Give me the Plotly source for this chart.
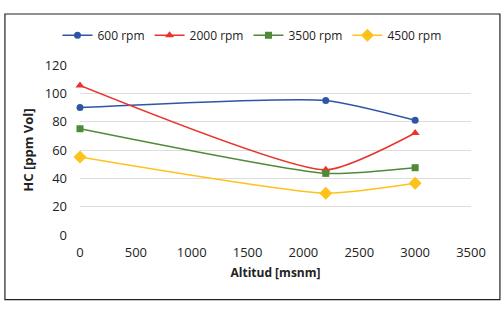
import plotly.graph_objects as go

altitud = [0, 2200, 3000]
rpm600 = [90, 95, 81]
rpm2000 = [105.5, 46, 72]
rpm3500 = [75, 43.5, 47.5]
rpm4500 = [55, 29.5, 36.5]

series = [
    ("600 rpm", rpm600, "#2E56A6", "circle", 7),
    ("2000 rpm", rpm2000, "#E8342A", "triangle-up", 8),
    ("3500 rpm", rpm3500, "#4E8A37", "square", 7),
    ("4500 rpm", rpm4500, "#FFC21A", "diamond", 10),
]

fig = go.Figure()
for name, ys, color, sym, sz in series:
    fig.add_trace(go.Scatter(
        x=altitud, y=ys, name=name, mode="lines+markers", cliponaxis=False,
        line=dict(color=color, width=1.5, shape="spline", smoothing=0.55),
        marker=dict(color=color, symbol=sym, size=sz),
    ))

fig.update_layout(
    width=504, height=311,
    margin=dict(l=80, r=33, t=65, b=76),
    paper_bgcolor="white", plot_bgcolor="white",
    font=dict(family="Open Sans", size=13, color="#222"),
    showlegend=True,
    legend=dict(orientation="h", xref="container", yref="container",
                x=0.5, xanchor="center", y=0.887, yanchor="middle",
                font=dict(size=12), itemwidth=30, traceorder="normal"),
    xaxis=dict(range=[0, 3500], tickvals=[0, 500, 1000, 1500, 2000, 2500, 3000, 3500],
               showgrid=False, zeroline=False, showline=False, ticks="", automargin=False,
               ticklabelstandoff=8,
               title=dict(text="<b>Altitud [msnm]</b>", font=dict(size=12), standoff=8)),
    yaxis=dict(range=[0, 120], tickvals=[0, 20, 40, 60, 80, 100, 120],
               showgrid=True, gridcolor="#DDDDDD", zeroline=False, showline=False, ticks="",
               ticklabelstandoff=12, automargin=False,
               title=dict(text="<b>HC [ppm Vol]</b>", font=dict(size=13), standoff=8)),
    shapes=[dict(type="rect", xref="paper", yref="paper",
                 x0=-0.192, x1=1.074, y0=-0.38, y1=1.3,
                 line=dict(color="#222", width=1.2), fillcolor="rgba(0,0,0,0)")],
)

fig.write_html("out.html", config={"displayModeBar": False},
               post_script="document.body.style.margin='0';")
